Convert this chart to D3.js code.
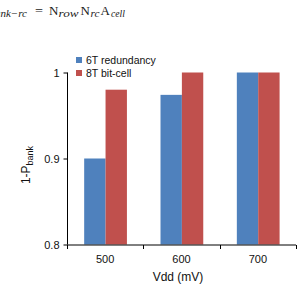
<!DOCTYPE html>
<html><head><meta charset="utf-8">
<script src="https://cdn.jsdelivr.net/npm/d3@7"></script>
<style>body{margin:0;background:#fff}svg{display:block}</style>
</head><body>
<svg id="c" width="306" height="284"></svg>
<script>
const categories = ["500", "600", "700"];
const seriesNames = ["6T redundancy", "8T bit-cell"];
const sixT = [0.900, 0.974, 1.000];
const eightT = [0.980, 1.000, 1.000];
const yTicks = [0.8, 0.9, 1];
const colors = ["#4F81BD", "#C0504D"];

const svg = d3.select("#c");
const sans = "Liberation Sans, Arial, Helvetica, sans-serif";
const serif = "Liberation Serif, Times New Roman, serif";

// equation line at the top (clipped at left, as in the source)
const eqParts = [
  {s: "bank\u2212rc", x: 27, sub: true, anchor: "end"},
  {s: "=", x: 35, sub: false, len: 8},
  {s: "N", x: 49, sub: false},
  {s: "row", x: 58.5, sub: true, len: 20},
  {s: "N", x: 80.5, sub: false},
  {s: "rc", x: 90.5, sub: true, len: 9},
  {s: "A", x: 100.5, sub: false},
  {s: "cell", x: 111, sub: true, len: 14}
];
const eq = svg.append("g").attr("font-family", serif).attr("fill", "#1a1a1a");
eqParts.forEach(p => {
  const tx = eq.append("text").attr("x", p.x).attr("y", p.sub ? 17 : 14.5)
    .attr("font-size", p.sub ? 11 : 13).attr("font-style", p.sub ? "italic" : "normal")
    .attr("text-anchor", p.anchor || "start").text(p.s);
  if (p.len) tx.attr("textLength", p.len).attr("lengthAdjust", "spacingAndGlyphs");
});

const x0 = d3.scaleBand().domain(categories).range([67, 296]).padding(0);
const step = x0.bandwidth();
const x1 = d3.scaleBand().domain(seriesNames).range([step * 0.225, step * 0.785]).padding(0);
const y = d3.scaleLinear().domain([0.8, 1]).range([244.5, 72.5]);

const data = categories.map((c, i) => ({cat: c, vals: [sixT[i], eightT[i]]}));

const g = svg.append("g");
g.selectAll("g.grp").data(data).join("g")
  .attr("transform", d => `translate(${x0(d.cat)},0)`)
  .selectAll("rect").data(d => d.vals.map((v, k) => ({k, v})))
  .join("rect")
  .attr("x", d => x1(seriesNames[d.k]))
  .attr("width", x1.bandwidth())
  .attr("y", d => y(d.v))
  .attr("height", d => y(0.8) - y(d.v))
  .attr("fill", d => colors[d.k]);

// y axis
const yAxis = g.append("g").attr("transform", "translate(67.5,0)")
  .call(d3.axisLeft(y).tickValues(yTicks).tickSize(4).tickPadding(4).tickFormat(d3.format("")));
yAxis.select(".domain").attr("d", `M0,${y(1)}V${y(0.8)}`);
yAxis.selectAll("text").attr("font-family", sans).attr("font-size", 11).attr("fill", "#111");
yAxis.selectAll("line,path").attr("stroke", "#000");

// x axis
const xa = g.append("g").attr("transform", `translate(0,${y(0.8) + 0.5})`);
xa.append("line").attr("x1", x0.range()[0]).attr("x2", x0.range()[1]).attr("stroke", "#000");
const bounds = categories.map(c => x0(c)).concat([x0.range()[1]]);
xa.selectAll("line.tk").data(bounds).join("line").attr("class", "tk")
  .attr("x1", d => Math.round(d) + 0.5).attr("x2", d => Math.round(d) + 0.5)
  .attr("y1", 0).attr("y2", 4).attr("stroke", "#000");
xa.selectAll("text").data(categories).join("text")
  .attr("x", d => x0(d) + step / 2).attr("y", 18).attr("text-anchor", "middle")
  .attr("font-family", sans).attr("font-size", 11).attr("fill", "#111").text(d => d);

svg.append("text").attr("x", 178).attr("y", 281).attr("text-anchor", "middle")
  .attr("font-family", sans).attr("font-size", 12).attr("fill", "#111").text("Vdd (mV)");

// y label
const yl = svg.append("text").attr("transform", "translate(30,165) rotate(-90)")
  .attr("text-anchor", "middle").attr("font-family", sans).attr("font-size", 12).attr("fill", "#111");
yl.append("tspan").text("1-P");
yl.append("tspan").attr("font-size", 9).attr("dy", 3).text("bank");

// legend
const lg = svg.append("g").attr("font-family", sans).attr("font-size", 10.5).attr("fill", "#111");
seriesNames.forEach((s, i) => {
  lg.append("rect").attr("x", 76).attr("y", 57 + i * 13).attr("width", 6).attr("height", 6).attr("fill", colors[i]);
  lg.append("text").attr("x", 86).attr("y", 63.5 + i * 13).text(s);
});
</script>
</body></html>
